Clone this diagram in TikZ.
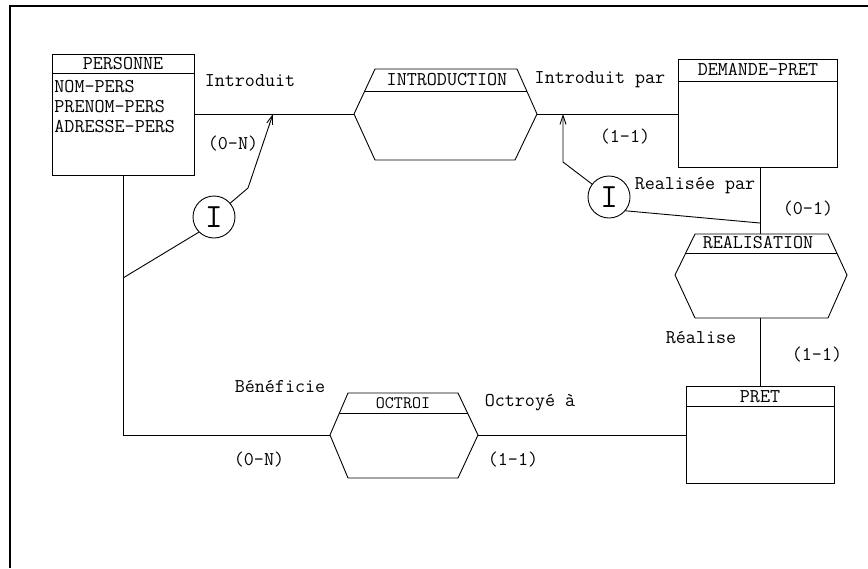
\documentclass[tikz,border=0pt]{standalone}
\usepackage{fontspec}
\usetikzlibrary{arrows.meta}
\begin{document}
\begin{tikzpicture}[x=1pt,y=-1pt, line width=0.9pt,
  txt/.style={font=\ttfamily\fontsize{19.5}{19.5}\selectfont, inner sep=0pt, anchor=center},
  attr/.style={font=\ttfamily\fontsize{19.5}{19.5}\selectfont, inner sep=0pt, anchor=west},
  entity/.style={draw, rectangle, inner sep=0pt},
  integ/.style={draw, circle, minimum size=42pt, inner sep=0pt, font=\ttfamily\fontsize{34}{34}\selectfont},
  tip/.style={-{Straight Barb[length=9pt,width=6pt]}},
  frame/.style={line width=1.8pt}
  ]
\useasboundingbox (0,0) rectangle (868,568);
% frame
\coordinate (fTR) at (868,6);
\coordinate (fTL) at (10,6);
\coordinate (fBL) at (10,568);
\draw[frame] (fTR) -- (fTL) -- (fBL);

% PERSONNE
\node[entity, minimum width=142pt, minimum height=121pt] (pers) at (123,114.5) {};
\draw ([yshift=-20pt]pers.north west) -- ([yshift=-20pt]pers.north east);
\node[txt] (persT) at (123,64) {PERSONNE};
\node[attr] (a1t) at (54,87) {NOM-PERS};
\node[attr] (a2t) at (54,107) {PRENOM-PERS};
\node[attr] (a3t) at (54,127) {ADRESSE-PERS};

% DEMANDE-PRET
\node[entity, minimum width=159pt, minimum height=108pt] (dem) at (757.5,113) {};
\draw ([yshift=-23pt]dem.north west) -- ([yshift=-23pt]dem.north east);
\node[txt] (demT) at (758,70) {DEMANDE-PRET};

% PRET
\node[entity, minimum width=148pt, minimum height=97pt] (pret) at (760,434.5) {};
\draw ([yshift=-21pt]pret.north west) -- ([yshift=-21pt]pret.north east);
\node[txt] (pretT) at (760,397) {PRET};

% INTRODUCTION
\coordinate (intL) at (354,114);
\coordinate (intR) at (537,114);
\draw (375,69) -- (intL) -- (375,160) -- (515,160) -- (intR) -- (517,69) -- cycle;
\draw (364.5,91) -- (527,91);
\node[txt] (intT) at (447,80) {INTRODUCTION};

% REALISATION
\coordinate (reaT) at (760,234);
\coordinate (reaB) at (760,318);
\draw (695,234) -- (675,275) -- (695,318) -- (828,318) -- (847,275) -- (828,234) -- cycle;
\draw (685.7,253) -- (836.8,253);
\node[txt] (reaTx) at (758,243) {REALISATION};

% OCTROI
\coordinate (octL) at (330,435);
\coordinate (octR) at (478,435);
\draw (348,393) -- (octL) -- (348,478) -- (458,478) -- (octR) -- (458,393) -- cycle;
\draw (339.4,413) -- (467.5,413);
\node[txt, font=\ttfamily\fontsize{17.5}{17.5}\selectfont] (octT) at (403,403) {OCTROI};

% connectors
\draw (pers.east |- intL) -- (intL);
\draw (intR) -- (dem.west |- intR);
\draw (dem.south -| reaT) -- (reaT);
\draw (reaB) -- (pret.north -| reaB);
\coordinate (persC) at (123,435);
\draw (pers.south -| persC) -- (persC) -- (octL);
\draw (octR) -- (pret.west |- octR);

% integrity constraints
\node[integ] (i1) at (214,217) {I};
\coordinate (j1) at (123,278);
\coordinate (k1) at (248,188);
\coordinate (t1) at (273,114);
\draw (i1.225) -- (j1);
\draw[tip] (i1) -- (k1) -- (t1);

\node[integ] (i2) at (609,197) {I};
\coordinate (j2) at (760,223);
\coordinate (k2) at (563,162);
\coordinate (t2) at (563,114);
\draw (i2.-40) -- (j2);
\draw[tip] (i2) -- (k2) -- (t2);

% labels
\node[txt] (l1) at (250,81) {Introduit};
\node[txt] (l2) at (233,144) {(0-N)};
\node[txt] (l3) at (600,80) {Introduit par};
\node[txt] (l4) at (625,137) {(1-1)};
\node[txt] (l5) at (695,186) {Realisée par};
\node[txt] (l6) at (808,209) {(0-1)};
\node[txt] (l7) at (701,338) {Réalise};
\node[txt] (l8) at (817,355) {(1-1)};
\node[txt] (l9) at (280,386) {Bénéficie};
\node[txt] (l10) at (259,460) {(0-N)};
\node[txt] (l11) at (530,403) {Octroyé à};
\node[txt] (l12) at (513,460) {(1-1)};
\end{tikzpicture}
\end{document}
